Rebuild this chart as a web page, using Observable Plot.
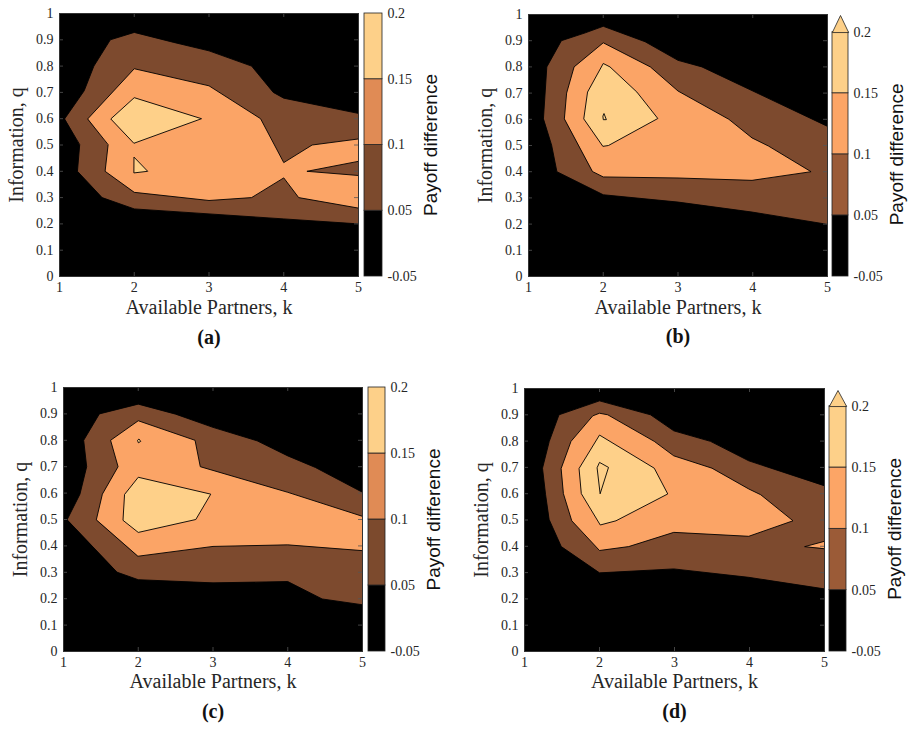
<!DOCTYPE html>
<html><head><meta charset="utf-8">
<script src="https://cdn.jsdelivr.net/npm/d3@7"></script>
<script src="https://cdn.jsdelivr.net/npm/@observablehq/plot@0.6"></script>
<style>
body{margin:0;background:#fff;}
#root{position:relative;width:910px;height:730px;overflow:hidden;background:#fff;}
#root svg{position:absolute;overflow:visible;background:transparent;max-width:none;}
</style></head><body><div id="root"></div>
<script>
// ---------- data ----------
const kTicks = [1, 2, 3, 4, 5];
const qTicks = [0, 0.1, 0.2, 0.3, 0.4, 0.5, 0.6, 0.7, 0.8, 0.9, 1];
const levelLabels = ["-0.05", "0.05", "0.1", "0.15", "0.2"];
const xLabel = "Available Partners, k";
const yLabel = "Information, q";
const barLabel = "Payoff difference";

// panel (a) contour regions, [k, q]
const a_brown = [[1.07,0.60],[1.33,0.706],[1.46,0.80],[1.68,0.90],[2.0,0.928],[2.53,0.89],[3.0,0.858],[3.57,0.80],[3.86,0.70],[4.0,0.678],[5,0.62],[5,0.20],[4.0,0.219],[3.0,0.238],[2.0,0.257],[1.57,0.30],[1.24,0.40],[1.27,0.50]];
const a_orange = [[1.38,0.60],[2.0,0.79],[3.0,0.725],[3.69,0.60],[4.0,0.433],[4.38,0.50],[5,0.523],[5,0.438],[4.31,0.40],[5,0.384],[5,0.26],[4.2,0.30],[4.0,0.375],[3.57,0.30],[3.0,0.289],[2.0,0.32],[1.61,0.40],[1.65,0.50]];
const a_light = [[1.69,0.60],[2.0,0.68],[2.9,0.60],[2.0,0.507]];
const a_light2 = [[2.0,0.453],[2.18,0.40],[2.0,0.394]];

// panel (b)
const b_brown = [[1.20,0.603],[1.245,0.80],[1.44,0.90],[1.76,0.93],[2.0,0.955],[2.56,0.896],[3.0,0.825],[3.32,0.80],[5,0.573],[5,0.199],[3.99,0.246],[3.0,0.284],[2.0,0.312],[1.38,0.40],[1.31,0.50]];
const b_orange = [[1.48,0.603],[1.51,0.70],[1.61,0.80],[2.0,0.892],[2.63,0.80],[3.0,0.708],[3.68,0.60],[3.99,0.529],[4.21,0.498],[4.78,0.40],[3.99,0.367],[3.0,0.376],[2.0,0.38],[1.86,0.40]];
const b_light = [[1.74,0.603],[1.79,0.704],[2.0,0.813],[2.09,0.80],[2.45,0.704],[2.73,0.603],[2.07,0.50],[2.0,0.497]];
const b_peak = [[2.0,0.60],[1.995,0.612],[2.01,0.622],[2.04,0.60]];

// panel (c)
const c_brown = [[1.05,0.50],[1.22,0.596],[1.31,0.70],[1.27,0.80],[1.48,0.90],[2.0,0.937],[2.5,0.899],[3.0,0.849],[3.59,0.798],[4.0,0.741],[4.37,0.697],[5,0.603],[5,0.177],[4.46,0.199],[4.0,0.265],[3.0,0.26],[2.0,0.272],[1.72,0.30]];
const c_orange = [[1.44,0.50],[1.52,0.596],[1.73,0.70],[1.63,0.80],[2.0,0.874],[2.76,0.80],[2.83,0.70],[4.0,0.603],[5,0.512],[5,0.382],[4.0,0.404],[3.0,0.398],[2.0,0.361]];
const c_light = [[1.82,0.596],[2.0,0.66],[2.97,0.596],[2.77,0.50],[2.0,0.451],[1.80,0.496]];
const c_peak = [[2.0,0.792],[1.99,0.80],[2.01,0.805],[2.03,0.797]];

// panel (d)
const d_brown = [[1.28,0.599],[1.24,0.697],[1.33,0.799],[1.46,0.90],[2.0,0.953],[2.68,0.90],[2.99,0.839],[3.48,0.799],[3.99,0.725],[5,0.63],[5,0.238],[3.99,0.282],[2.99,0.314],[2.0,0.299],[1.49,0.399],[1.33,0.501]];
const d_orange = [[1.49,0.697],[1.62,0.799],[1.91,0.896],[2.0,0.906],[2.11,0.90],[2.73,0.799],[2.99,0.744],[3.5,0.697],[3.99,0.618],[4.15,0.596],[4.58,0.497],[3.99,0.438],[2.99,0.453],[2.39,0.399],[2.0,0.384],[1.63,0.497],[1.52,0.599]];
const d_orange2 = [[4.74,0.399],[5,0.419],[5,0.392]];
const d_light = [[1.73,0.697],[2.0,0.823],[2.73,0.697],[2.91,0.599],[2.22,0.497],[2.01,0.481],[1.76,0.599]];
const d_peak = [[1.97,0.70],[2.0,0.719],[2.12,0.70],[2.01,0.601]];

// ---------- styles ----------
const field = {brown: "#7d4a2e", orange: "#fba466", light: "#fed089"};
const barColorsAC = ["#000000", "#7c4a2d", "#e08b55", "#fdd089"];
const barColorsBD = ["#000000", "#9b5b37", "#fca566", "#fdd089"];
const serif = "'Liberation Serif', 'Times New Roman', serif";
const sans = "'Liberation Sans', Arial, sans-serif";
const ink = "#262626";

const panels = [
  {letter: "(a)", polys: [[a_brown, field.brown], [a_orange, field.orange], [a_light, field.light], [a_light2, field.light]],
   frame: [59, 13, 358, 276], bar: [364, 382, 13, 276], apex: null, barColors: barColorsAC, xdy: 37, ldy: 67},
  {letter: "(b)", polys: [[b_brown, field.brown], [b_orange, field.orange], [b_light, field.light], [b_peak, field.light]],
   frame: [528, 14, 827, 276], bar: [832, 848, 31.7, 276], apex: 15, barColors: barColorsBD, xdy: 37, ldy: 66},
  {letter: "(c)", polys: [[c_brown, field.brown], [c_orange, field.orange], [c_light, field.light], [c_peak, field.light]],
   frame: [63, 387, 362, 651], bar: [368, 385, 387, 651], apex: null, barColors: barColorsAC, xdy: 36, ldy: 66},
  {letter: "(d)", polys: [[d_brown, field.brown], [d_orange, field.orange], [d_orange2, field.orange], [d_light, field.light], [d_peak, field.light]],
   frame: [524, 388, 824, 651], bar: [829, 846, 405.7, 651], apex: 390, barColors: barColorsBD, xdy: 36, ldy: 66}
];

const root = document.getElementById("root");

function place(svg, left, top) {
  svg.style.left = left + "px";
  svg.style.top = top + "px";
  root.appendChild(svg);
}

for (const p of panels) {
  const [x0, y0, x1, y1] = p.frame;
  const W = x1 - x0, H = y1 - y0;
  const mL = 60, mT = 8, mR = 4, mB = 90;
  const chart = Plot.plot({
    width: W + mL + mR, height: H + mT + mB,
    marginLeft: mL, marginTop: mT, marginRight: mR, marginBottom: mB,
    style: {fontFamily: serif, background: "transparent", color: ink, overflow: "visible"},
    x: {domain: [1, 5]},
    y: {domain: [0, 1]},
    marks: [
      Plot.frame({fill: "black"}),
      ...p.polys.map(([pts, color]) => Plot.line(pts, {
        x: d => d[0], y: d => d[1], fill: color, stroke: "black", strokeWidth: 0.9,
        curve: "linear-closed", clip: true
      })),
      Plot.tickX(kTicks, {x: d => d, insetTop: H - 4, stroke: "#555", strokeWidth: 0.8}),
      Plot.tickX(kTicks, {x: d => d, insetBottom: H - 4, stroke: "#555", strokeWidth: 0.8}),
      Plot.tickY(qTicks, {y: d => d, insetRight: W - 4, stroke: "#555", strokeWidth: 0.8}),
      Plot.tickY(qTicks, {y: d => d, insetLeft: W - 4, stroke: "#555", strokeWidth: 0.8}),
      Plot.frame({stroke: "#333", strokeWidth: 1}),
      Plot.axisX(kTicks, {tickSize: 0, tickPadding: 6, fontSize: 14, label: null, tickFormat: d => String(d), fill: ink}),
      Plot.axisY(qTicks, {tickSize: 0, tickPadding: 6, fontSize: 14, label: null, tickFormat: d => String(d), fill: ink}),
      Plot.text([xLabel], {text: d => d, frameAnchor: "bottom", textAnchor: "middle", dy: p.xdy, fontSize: 20, fill: ink}),
      Plot.text([p.letter], {text: d => d, frameAnchor: "bottom", textAnchor: "middle", dy: p.ldy, fontSize: 20, fontWeight: "bold", fill: "#111"}),
      Plot.text([yLabel], {text: d => d, frameAnchor: "left", textAnchor: "middle", dx: -43, rotate: -90, fontSize: 20, fill: ink})
    ]
  });
  place(chart, x0 - mL, y0 - mT);

  // colorbar
  const [bx0, bx1, bTop, bBot] = p.bar;
  const nBlocks = levelLabels.length - 1;
  const blockH = (bBot - bTop) / nBlocks;
  const ext = p.apex == null ? 0 : (bTop - p.apex) / blockH;
  const top = p.apex == null ? bTop : p.apex;
  const bW = bx1 - bx0;
  const cm = 10;
  const blocks = p.barColors.map((c, i) => ({lo: i, hi: i + 1, color: c}));
  const tri = [{x: 0, y: nBlocks}, {x: 0.5, y: nBlocks + ext}, {x: 1, y: nBlocks}];
  const bar = Plot.plot({
    width: bW + 2 + 80, height: (bBot - top) + 2 * cm,
    marginLeft: 2, marginRight: 80, marginTop: cm, marginBottom: cm,
    style: {fontFamily: serif, background: "transparent", color: ink, overflow: "visible"},
    x: {domain: [0, 1], axis: null},
    y: {domain: [0, nBlocks + ext], axis: null},
    marks: [
      Plot.rect(blocks, {y1: "lo", y2: "hi", fill: "color", stroke: "#222", strokeWidth: 0.8}),
      ...(ext > 0 ? [Plot.line(tri, {x: "x", y: "y", fill: p.barColors[nBlocks - 1], stroke: "#222", strokeWidth: 0.8, curve: "linear-closed"})] : []),
      Plot.axisY(d3.range(levelLabels.length), {anchor: "right", tickSize: 0, tickPadding: 5, fontSize: 14, label: null, tickFormat: i => levelLabels[i], fill: ink}),
      Plot.text([{y: nBlocks / 2, t: barLabel}], {y: "y", text: "t", frameAnchor: "right", textAnchor: "middle", dx: 48, rotate: -90, fontSize: 19, fontFamily: sans, fill: "#111"})
    ]
  });
  place(bar, bx0 - 2, top - cm);
}
</script>
</body></html>
